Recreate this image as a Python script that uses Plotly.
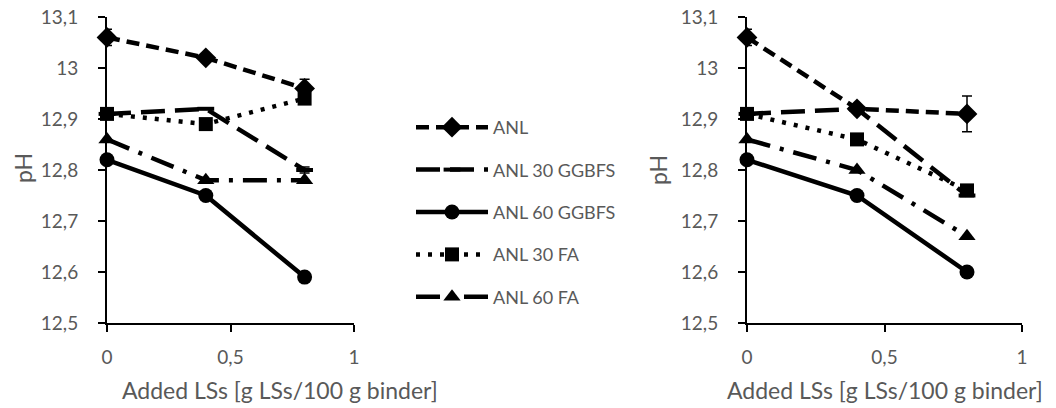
import plotly.graph_objects as go

# Added lignosulfonate dosage [g LSs / 100 g binder]
dosage = [0, 0.4, 0.8]

series_names = ["ANL", "ANL 30 GGBFS", "ANL 60 GGBFS", "ANL 30 FA", "ANL 60 FA"]

# pH values, left panel
ph_left_anl = [13.06, 13.02, 12.96]
ph_left_anl30ggbfs = [12.91, 12.92, 12.80]
ph_left_anl60ggbfs = [12.82, 12.75, 12.59]
ph_left_anl30fa = [12.91, 12.89, 12.94]
ph_left_anl60fa = [12.86, 12.78, 12.78]

# pH values, right panel
ph_right_anl = [13.06, 12.92, 12.91]
ph_right_anl30ggbfs = [12.91, 12.92, 12.75]
ph_right_anl60ggbfs = [12.82, 12.75, 12.60]
ph_right_anl30fa = [12.91, 12.86, 12.76]
ph_right_anl60fa = [12.86, 12.80, 12.67]

# standard deviations (only where shown)
err_left_anl = [0.016, 0.0, 0.018]
err_left_anl30ggbfs = [0.0, 0.0, 0.006]
err_right_anl = [0.016, 0.0, 0.035]

y_tickvals = [12.5, 12.6, 12.7, 12.8, 12.9, 13.0, 13.1]
y_ticktext = ["12,5", "12,6", "12,7", "12,8", "12,9", "13", "13,1"]
x_tickvals = [0, 0.5, 1]
x_ticktext = ["0", "0,5", "1"]

x_title = "Added LSs [g LSs/100 g binder]"
y_title = "pH"

FONT = "Lato"
GREY = "#595959"

styles = {
    "ANL": dict(dash="13px,7px", symbol="diamond", size=16),
    "ANL 30 GGBFS": dict(dash="24px,10px", symbol="line-ew", size=12),
    "ANL 60 GGBFS": dict(dash="solid", symbol="circle", size=15),
    "ANL 30 FA": dict(dash="4px,8px", symbol="square", size=14),
    "ANL 60 FA": dict(dash="24px,10px,4px,10px", symbol="triangle-up", size=15),
}

left_data = [ph_left_anl, ph_left_anl30ggbfs, ph_left_anl60ggbfs, ph_left_anl30fa, ph_left_anl60fa]
right_data = [ph_right_anl, ph_right_anl30ggbfs, ph_right_anl60ggbfs, ph_right_anl30fa, ph_right_anl60fa]
left_err = {"ANL": err_left_anl, "ANL 30 GGBFS": err_left_anl30ggbfs}
right_err = {"ANL": err_right_anl}

fig = go.Figure()


def add_series(name, values, xaxis, yaxis, errors, show_legend):
    st = styles[name]
    marker = dict(symbol=st["symbol"], size=st["size"], color="black")
    if st["symbol"] == "line-ew":
        marker["line"] = dict(color="black", width=4)
    err = None
    if errors is not None:
        err = dict(type="data", array=errors, symmetric=True, color="black",
                   thickness=1.5, width=5, visible=True)
    fig.add_trace(go.Scatter(
        x=dosage, y=values, name=name, mode="lines+markers",
        line=dict(color="black", width=4.5, dash=st["dash"]),
        marker=marker, error_y=err,
        xaxis=xaxis, yaxis=yaxis, legendgroup=name, showlegend=show_legend,
        cliponaxis=False,
    ))


for name, vals in zip(series_names, left_data):
    add_series(name, vals, "x", "y", left_err.get(name), True)
for name, vals in zip(series_names, right_data):
    add_series(name, vals, "x2", "y2", right_err.get(name), False)

W, H = 1056, 408
y_dom = [1 - 323 / H, 1 - 17 / H]

axis_common = dict(
    showline=True, linecolor="black", linewidth=2,
    ticks="outside", ticklen=7, tickwidth=2, tickcolor="black",
    showgrid=False, zeroline=False, automargin=False,
    tickfont=dict(family=FONT, size=19, color=GREY),
)

fig.update_layout(
    width=W, height=H,
    margin=dict(l=0, r=0, t=0, b=0, autoexpand=False),
    paper_bgcolor="white", plot_bgcolor="white",
    font=dict(family=FONT, color=GREY),
    xaxis=dict(domain=[107 / W, 354 / W], range=[0, 1], tickvals=x_tickvals,
               ticktext=x_ticktext, anchor="y", ticklabelstandoff=9, **axis_common),
    yaxis=dict(domain=y_dom, range=[12.5, 13.1], tickvals=y_tickvals,
               ticktext=y_ticktext, anchor="x", ticklabelstandoff=16, **axis_common),
    xaxis2=dict(domain=[747 / W, 1022 / W], range=[0, 1], tickvals=x_tickvals,
                ticktext=x_ticktext, anchor="y2", ticklabelstandoff=9, **axis_common),
    yaxis2=dict(domain=y_dom, range=[12.5, 13.1], tickvals=y_tickvals,
                ticktext=y_ticktext, anchor="x2", ticklabelstandoff=16, **axis_common),
    legend=dict(
        x=411 / W, y=1 - 109 / H, xanchor="left", yanchor="top",
        font=dict(family=FONT, size=18, color=GREY),
        itemwidth=72, tracegroupgap=16, bgcolor="rgba(0,0,0,0)",
    ),
    showlegend=True,
)

annotations = [
    dict(text=x_title, x=280 / W, y=1 - 390 / H),
    dict(text=x_title, x=885 / W, y=1 - 390 / H),
    dict(text=y_title, x=23 / W, y=1 - 168 / H, textangle=-90),
    dict(text=y_title, x=658 / W, y=1 - 170 / H, textangle=-90),
]
for a in annotations:
    fig.add_annotation(xref="paper", yref="paper", showarrow=False,
                       xanchor="center", yanchor="middle",
                       font=dict(family=FONT, size=23, color=GREY), **a)

fig.write_html("out.html")
